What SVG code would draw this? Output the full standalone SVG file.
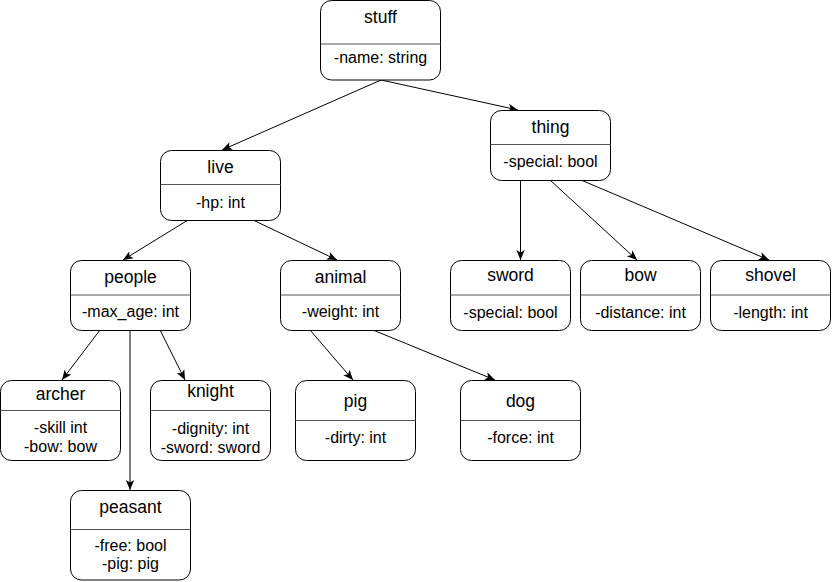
<svg xmlns="http://www.w3.org/2000/svg" width="832" height="582" viewBox="0 0 832 582">
<style>
.box{fill:#fff;stroke:#000;stroke-width:1}
.div{stroke:#555;stroke-width:1}
.t{font-family:"Liberation Sans",Arial,sans-serif;font-size:17.5px;text-anchor:middle;fill:#000}
.a{font-family:"Liberation Sans",Arial,sans-serif;font-size:16px;text-anchor:middle;fill:#000}
.c{stroke:#000;stroke-width:1;fill:none;marker-end:url(#arr)}
</style>
<defs>
<marker id="arr" markerUnits="userSpaceOnUse" markerWidth="12" markerHeight="12" refX="10" refY="5" viewBox="0 0 12 10" orient="auto">
<path d="M0,0.8 L10,5 L0,9.2 L2.5,5 z" fill="#000"/>
</marker>
</defs>
<rect width="832" height="582" fill="#fff"/>
<g id="connectors">
<line class="c" x1="381" y1="80" x2="222" y2="150"/>
<line class="c" x1="381" y1="80" x2="518" y2="110"/>
<line class="c" x1="188" y1="220" x2="123" y2="260"/>
<line class="c" x1="253" y1="220" x2="337" y2="260"/>
<line class="c" x1="100" y1="330" x2="62" y2="380"/>
<line class="c" x1="130" y1="330" x2="130" y2="490"/>
<line class="c" x1="160" y1="330" x2="185" y2="380"/>
<line class="c" x1="310" y1="330" x2="353" y2="380"/>
<line class="c" x1="373" y1="330" x2="495" y2="380"/>
<line class="c" x1="520.5" y1="180" x2="520.5" y2="260"/>
<line class="c" x1="550" y1="180" x2="637" y2="260"/>
<line class="c" x1="581" y1="180" x2="769" y2="260"/>
</g>
<g id="stuff">
<rect class="box" x="320.5" y="0.5" width="120" height="79.5" rx="11"/>
<line class="div" x1="320.5" y1="44" x2="440.5" y2="44"/>
<text class="t" x="380.5" y="23">stuff</text>
<text class="a" x="380.5" y="63">-name: string</text>
</g>
<g id="live">
<rect class="box" x="160.5" y="150.5" width="120" height="70" rx="11"/>
<line class="div" x1="160.5" y1="184.5" x2="280.5" y2="184.5"/>
<text class="t" x="220.5" y="173">live</text>
<text class="a" x="220.5" y="208">-hp: int</text>
</g>
<g id="thing">
<rect class="box" x="490.5" y="110.5" width="120" height="70" rx="11"/>
<line class="div" x1="490.5" y1="144.5" x2="610.5" y2="144.5"/>
<text class="t" x="550.5" y="133">thing</text>
<text class="a" x="550.5" y="167">-special: bool</text>
</g>
<g id="people">
<rect class="box" x="70.5" y="260.5" width="120" height="70" rx="11"/>
<line class="div" x1="70.5" y1="295" x2="190.5" y2="295"/>
<text class="t" x="130.5" y="283">people</text>
<text class="a" x="130.5" y="317">-max_age: int</text>
</g>
<g id="animal">
<rect class="box" x="280.5" y="260.5" width="120" height="70" rx="11"/>
<line class="div" x1="280.5" y1="295" x2="400.5" y2="295"/>
<text class="t" x="340.5" y="283">animal</text>
<text class="a" x="340.5" y="317">-weight: int</text>
</g>
<g id="sword">
<rect class="box" x="450.5" y="260.5" width="120" height="70" rx="11"/>
<line class="div" x1="450.5" y1="295" x2="570.5" y2="295"/>
<text class="t" x="510.5" y="281">sword</text>
<text class="a" x="510.5" y="318">-special: bool</text>
</g>
<g id="bow">
<rect class="box" x="580.5" y="260.5" width="120" height="70" rx="11"/>
<line class="div" x1="580.5" y1="295" x2="700.5" y2="295"/>
<text class="t" x="640.5" y="281">bow</text>
<text class="a" x="640.5" y="318">-distance: int</text>
</g>
<g id="shovel">
<rect class="box" x="710.5" y="260.5" width="120" height="70" rx="11"/>
<line class="div" x1="710.5" y1="295" x2="830.5" y2="295"/>
<text class="t" x="770.5" y="281">shovel</text>
<text class="a" x="770.5" y="318">-length: int</text>
</g>
<g id="archer">
<rect class="box" x="0.5" y="380.5" width="120" height="80" rx="11"/>
<line class="div" x1="0.5" y1="410.5" x2="120.5" y2="410.5"/>
<text class="t" x="60.5" y="400">archer</text>
<text class="a" x="60.5" y="433">-skill int</text>
<text class="a" x="60.5" y="452">-bow: bow</text>
</g>
<g id="knight">
<rect class="box" x="150.5" y="380.5" width="120" height="80" rx="11"/>
<line class="div" x1="150.5" y1="410.5" x2="270.5" y2="410.5"/>
<text class="t" x="210.5" y="397">knight</text>
<text class="a" x="210.5" y="434">-dignity: int</text>
<text class="a" x="210.5" y="453">-sword: sword</text>
</g>
<g id="peasant">
<rect class="box" x="70.5" y="490.5" width="120" height="89.5" rx="11"/>
<line class="div" x1="70.5" y1="529.5" x2="190.5" y2="529.5"/>
<text class="t" x="130.5" y="513">peasant</text>
<text class="a" x="130.5" y="551">-free: bool</text>
<text class="a" x="130.5" y="569">-pig: pig</text>
</g>
<g id="pig">
<rect class="box" x="295.5" y="380.5" width="120" height="80" rx="11"/>
<line class="div" x1="295.5" y1="420.5" x2="415.5" y2="420.5"/>
<text class="t" x="355.5" y="407">pig</text>
<text class="a" x="355.5" y="443">-dirty: int</text>
</g>
<g id="dog">
<rect class="box" x="460.5" y="380.5" width="120" height="80" rx="11"/>
<line class="div" x1="460.5" y1="420.5" x2="580.5" y2="420.5"/>
<text class="t" x="520.5" y="407">dog</text>
<text class="a" x="520.5" y="443">-force: int</text>
</g>
</svg>
